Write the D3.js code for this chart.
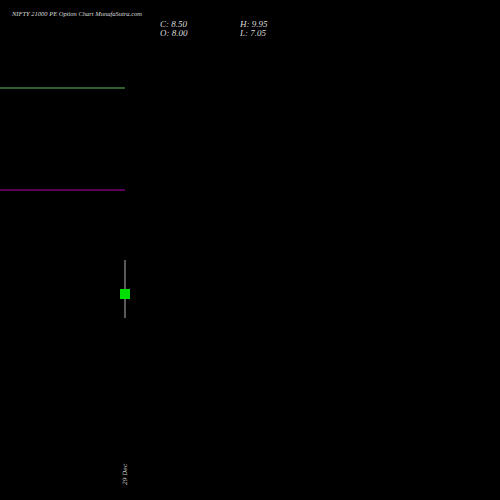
<!DOCTYPE html>
<html><head><meta charset="utf-8">
<script src="https://cdn.jsdelivr.net/npm/d3@7"></script>
<style>body{margin:0;background:#000}</style></head>
<body><svg id="chart"></svg>
<script>
const dates = ["29 Dec"];
const opens = [8.00];
const highs = [9.95];
const lows = [7.05];
const closes = [8.50];
const levelValues = [18.55, 13.45];
const levelColors = ["#5fbf5f", "#b000b0"];

const width = 500, height = 500;
const svg = d3.select("#chart").attr("width", width).attr("height", height)
  .style("background", "#000");

// 20px per unit, H at y=260
const y = d3.scaleLinear().domain([7.05, 9.95]).range([318, 260]);
const x = d3.scaleBand().domain(dates).range([115, 135]);

svg.selectAll("line.level").data(levelValues).enter().append("line")
  .attr("x1", 0).attr("x2", 125)
  .attr("y1", d => y(d)).attr("y2", d => y(d))
  .attr("stroke", (d, i) => levelColors[i]).attr("stroke-width", 1.2);

const g = svg.selectAll("g.candle").data(dates).enter().append("g");
g.append("line")
  .attr("x1", d => x(d) + x.bandwidth() / 2).attr("x2", d => x(d) + x.bandwidth() / 2)
  .attr("y1", (d, i) => y(highs[i])).attr("y2", (d, i) => y(lows[i]))
  .attr("stroke", "#777").attr("stroke-width", 1.5);
g.append("rect")
  .attr("x", d => x(d) + 5).attr("width", 10)
  .attr("y", (d, i) => y(Math.max(opens[i], closes[i])))
  .attr("height", (d, i) => Math.abs(y(opens[i]) - y(closes[i])))
  .attr("fill", "#00e000");
g.append("text")
  .attr("transform", d => `translate(${x(d) + x.bandwidth() / 2 + 2},485) rotate(-90)`)
  .attr("fill", "#ccc").attr("font-size", 6).attr("font-family", "DejaVu Serif")
  .attr("font-style", "italic").text(d => d);

const font = "Liberation Serif";
svg.append("text").attr("x", 12).attr("y", 16).attr("fill", "#ddd")
  .attr("font-size", 6.5).attr("font-family", font).attr("font-style", "italic")
  .text("NIFTY 21000  PE Option  Chart MunafaSutra.com");
const info = [["C: " + closes[0].toFixed(2), 160, 27], ["O: " + opens[0].toFixed(2), 160, 36],
  ["H: " + highs[0].toFixed(2), 240, 27], ["L: " + lows[0].toFixed(2), 240, 36]];
svg.selectAll("text.info").data(info).enter().append("text")
  .attr("x", d => d[1]).attr("y", d => d[2]).attr("fill", "#ddd")
  .attr("font-size", 9).attr("font-family", font).attr("font-style", "italic")
  .text(d => d[0]);
</script></body></html>
